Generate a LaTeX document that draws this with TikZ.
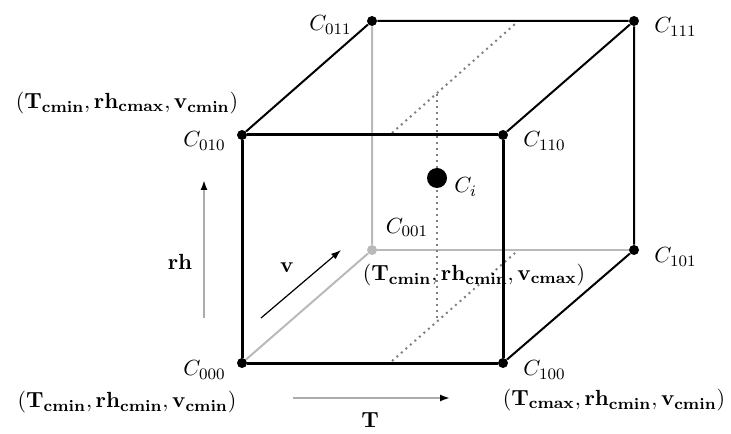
\documentclass[tikz,border=0pt]{standalone}
\usepackage{amsmath, amssymb}
\usetikzlibrary{arrows.meta, positioning, calc}

\newcommand{\bnd}[3]{$(\mathbf{T}_{\mathbf{#1}}, \mathbf{rh}_{\mathbf{#2}}, \mathbf{v}_{\mathbf{#3}})$}

\begin{document}
\begin{tikzpicture}[x=0.5pt, y=0.5pt,
  every node/.style={font=\fontsize{11.2pt}{13pt}\selectfont},
  corner/.style={circle, fill=black, inner sep=0pt, minimum size=5pt},
  hiddencorner/.style={corner, fill=gray!55},
  front/.style={line width=1.5pt},
  edge/.style={line width=1pt},
  hidden/.style={gray!55, line width=1pt},
  plane/.style={dotted, line width=1pt, gray},
  axis/.style={gray!65, line width=0.9pt, -{Latex[black, length=5pt, width=3.5pt]}}]
\useasboundingbox (0,0) rectangle (731,433);

% 頂点
\foreach \n/\x/\y in {000/242/70, 100/503/70, 010/242/298, 110/503/298, 101/634/183, 011/372/412, 111/634/412} {
  \node[corner] (c\n) at (\x,\y) {};
}
\node[hiddencorner] (c001) at (372,183) {};

% 見えない辺
\draw[hidden] (c000) -- (c001) -- (c011);
\draw[hidden] (c001) -- (c101);

% 切断面
\coordinate (p0) at (392,72);
\coordinate (p1) at (515,180);
\coordinate (p2) at (392,300);
\coordinate (p3) at (515,409);
\coordinate (q0) at (437,115);
\coordinate (q1) at (437,343);
\draw[plane] (p0) -- (p1);
\draw[plane] (p2) -- (p3);
\draw[plane] (q0) -- (q1);
\node[corner, minimum size=10pt] (ci) at (437,255) {};

% 辺
\draw[edge] (c010) -- (c011) -- (c111) -- (c101) -- (c100);
\draw[edge] (c110) -- (c111);
\draw[front] (c000) -- (c100) -- (c110) -- (c010) -- (c000);

% ラベル
\node[left=2pt of c000, yshift=-3.5pt] (l000) {$C_{000}$};
\node[right=4pt of c100, yshift=-3.5pt] (l100) {$C_{100}$};
\node[left=2pt of c010, yshift=-3pt] (l010) {$C_{010}$};
\node[right=4pt of c110, yshift=-3pt] (l110) {$C_{110}$};
\node[left=4pt of c011, yshift=-2pt] (l011) {$C_{011}$};
\node[right=4pt of c111, yshift=-3pt] (l111) {$C_{111}$};
\node[right=4pt of c101, yshift=-3.5pt] (l101) {$C_{101}$};
\node[above right=1.2pt and 1.5pt of c001] (l001) {$C_{001}$};
\node[right=0pt of ci, yshift=-4.5pt] (lci) {$C_i$};

\node (t010) at (127,330) {\bnd{cmin}{cmax}{cmin}};
\node (t000) at (127,31) {\bnd{cmin}{cmin}{cmin}};
\node (t001) at (474,158) {\bnd{cmin}{cmin}{cmax}};
\node (t100) at (614,33) {\bnd{cmax}{cmin}{cmin}};

% 軸
\coordinate (rh0) at (204,115);
\coordinate (rh1) at (204,253);
\coordinate (v0) at (261,115);
\coordinate (v1) at (341,183);
\coordinate (T0) at (293,35);
\coordinate (T1) at (450,35);
\draw[axis] (rh0) -- (rh1);
\draw[axis, black, line width=0.6pt] (v0) -- (v1);
\draw[axis] (T0) -- (T1);
\node (rhlab) at (180,171) {$\mathbf{rh}$};
\node (vlab) at (287,165) {$\mathbf{v}$};
\node (Tlab) at (370,13) {$\mathbf{T}$};

\end{tikzpicture}
\end{document}
